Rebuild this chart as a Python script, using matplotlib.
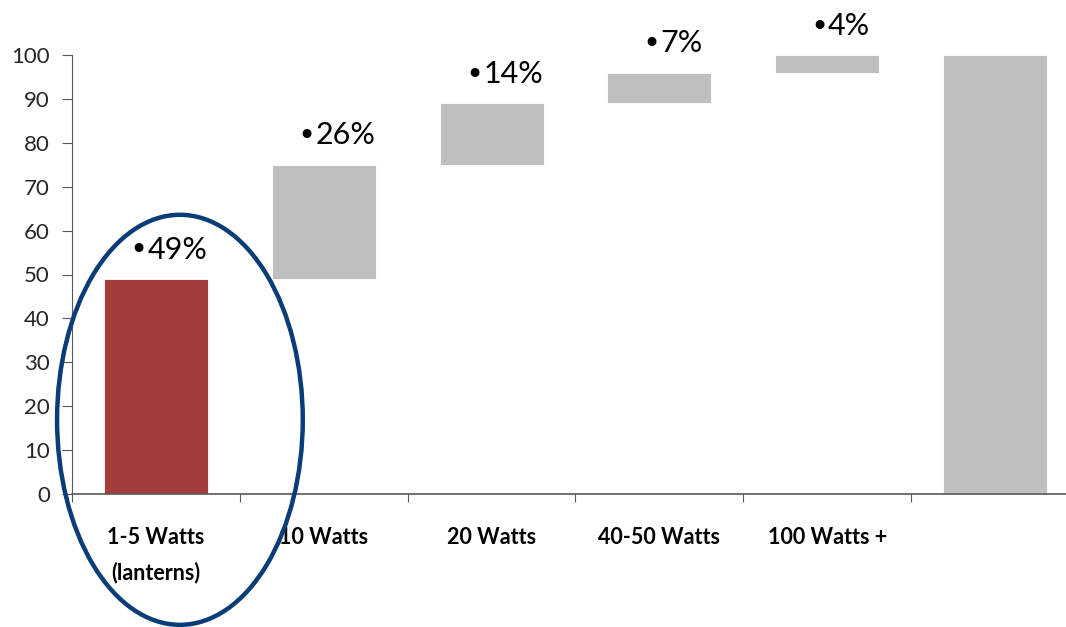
import numpy as np
import matplotlib.pyplot as plt
from matplotlib.patches import Ellipse

categorias = ["1-5 Watts\n(lanterns)", "10 Watts", "20 Watts", "40-50 Watts", "100 Watts +", ""]
valores = [49, 26, 14, 7, 4]
total = 100
rotulos = ["49%", "26%", "14%", "7%", "4%"]

cor_vermelha = "#A43C3C"
cor_cinza = "#BFBFBF"
cor_elipse = "#083D77"

fig = plt.figure(figsize=(10.66, 6.27), dpi=100)
ax = fig.add_axes([72 / 1066, 133 / 627, 1007 / 1066, 439 / 627])

bases = np.concatenate([[0], np.cumsum(valores)[:-1]])
alturas = valores + [total]
bases = list(bases) + [0]
cores = [cor_vermelha] + [cor_cinza] * (len(valores) - 1) + [cor_cinza]
x = np.arange(len(categorias))

ax.bar(x, alturas, bottom=bases, width=0.62, color=cores, edgecolor="white", linewidth=0.6)

# rótulos de porcentagem com marcador
for i, r in enumerate(rotulos):
    topo = bases[i] + alturas[i] + 3.5
    t = ax.text(x[i] + 0.13, topo, r, ha="center", va="bottom",
                fontsize=22, family="Lato", color="black", clip_on=False)
    ax.annotate("•", xy=(0, 0.45), xycoords=t, ha="right", va="center",
                xytext=(0, 0), textcoords="offset points",
                fontsize=22, family="DejaVu Sans", color="black", annotation_clip=False)

# elipse de destaque
ax.add_patch(Ellipse((0.143, 16.9), 1.464, 93.4, fill=False, edgecolor=cor_elipse,
                     linewidth=3.2, clip_on=False, zorder=5))

ax.set_xlim(-0.5, len(categorias) - 0.5)
ax.set_ylim(0, 100)
ax.set_yticks(range(0, 101, 10))
ax.set_xticks(np.arange(len(categorias) + 1) - 0.5, minor=False)
ax.set_xticklabels([])
ax.set_xticks(x, minor=True)
ax.set_xticklabels(categorias, minor=True, fontsize=15.5, fontweight="bold", family="Lato",
                   linespacing=1.75)
ax.tick_params(axis="x", which="minor", length=0, pad=24)
ax.tick_params(axis="x", which="major", length=6, direction="out", color="#595959")
ax.tick_params(axis="y", length=7, direction="out", color="#595959", labelsize=16,
               labelcolor="#262626", pad=9)
for t in ax.get_yticklabels():
    t.set_family("Lato")

for lado in ["top", "right"]:
    ax.spines[lado].set_visible(False)
ax.spines["left"].set_color("#595959")
ax.spines["bottom"].set_color("#595959")
ax.spines["bottom"].set_linewidth(1.2)

fig.savefig("out.png", dpi=100)
